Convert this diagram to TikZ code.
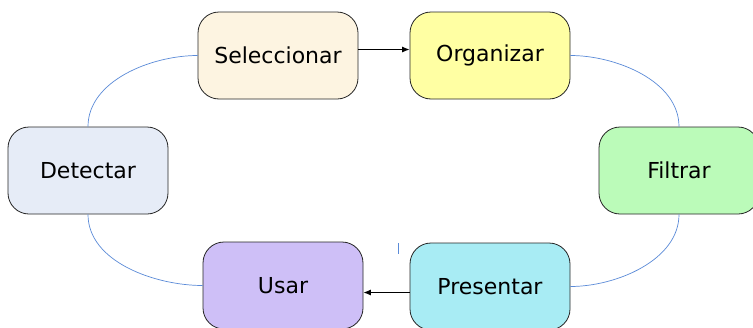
\documentclass[tikz,border=0pt]{standalone}
\usepackage{fontspec}
\setmainfont{DejaVu Sans}
\usetikzlibrary{arrows.meta}
\definecolor{cSel}{HTML}{FDF4E1}
\definecolor{cOrg}{HTML}{FFFFA3}
\definecolor{cFil}{HTML}{BBFBB9}
\definecolor{cDet}{HTML}{E6ECF7}
\definecolor{cUsa}{HTML}{CEBFF7}
\definecolor{cPre}{HTML}{A8ECF4}
\definecolor{link}{HTML}{5B8BD8}
\tikzset{
  stage/.style={draw=black!85, line width=0.8pt, rounded corners=21pt,
    minimum width=160pt, minimum height=87pt, inner sep=0pt,
    font=\fontsize{22}{25}\selectfont},
  flow/.style={draw=black, line width=1pt, -{Latex[length=7.5pt,width=6pt]}},
  loop/.style={draw=link, line width=0.7pt},
}
\begin{document}
\begin{tikzpicture}[x=1pt,y=-1pt]
  \useasboundingbox (0,0) rectangle (753,327);
  \clip (0,0) rectangle (753,327);
  \fill[white] (0,0) rectangle (753,327);

  % stages of the cycle
  \node[stage, fill=cSel] (sel) at (278,55.5) {Seleccionar};
  \node[stage, fill=cOrg] (org) at (490,55.5) {Organizar};
  \node[stage, fill=cFil] (fil) at (679,170.5) {Filtrar};
  \node[stage, fill=cDet] (det) at (88,170.5) {Detectar};
  \node[stage, fill=cUsa] (usa) at (283,285.5) {Usar};
  \node[stage, fill=cPre] (pre) at (490,286.5) {Presentar};

  % curved links between stages
  \draw[loop] (det.north) to[out=90,in=180,looseness=0.9] (sel.west);
  \draw[loop] (org.east) to[out=0,in=90,looseness=0.9] (fil.north);
  \draw[loop] (fil.south) to[out=-90,in=0,looseness=0.9] (pre.east);
  \draw[loop] (det.south) to[out=-90,in=180,looseness=0.9] (usa.west);

  % straight arrows, kept horizontal
  \draw[flow] ([yshift=6pt]sel.east) -- ([yshift=6pt]sel.east -| org.west);
  \draw[flow] ([yshift=-6pt]pre.west) -- ([yshift=-6pt]pre.west -| usa.east);

  % small tick mark
  \coordinate (tickA) at (398,243);
  \coordinate (tickB) at (398,254);
  \draw[loop] (tickA) -- (tickB);
\end{tikzpicture}
\end{document}
